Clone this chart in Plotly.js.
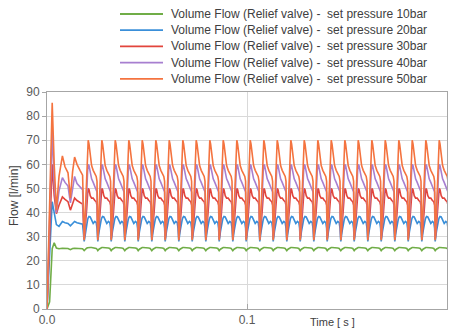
<!DOCTYPE html>
<html>
<head>
<meta charset="utf-8">
<script src="https://cdn.plot.ly/plotly-3.0.1.min.js"></script>
<style>html,body{margin:0;padding:0;background:#fff;}#chart{width:455px;height:330px;}</style>
</head>
<body>
<div id="chart"></div>
<script>
// ---- data ----
const seriesNames = [
  "Volume Flow (Relief valve) -\u00a0 set pressure 10bar",
  "Volume Flow (Relief valve) -\u00a0 set pressure 20bar",
  "Volume Flow (Relief valve) -\u00a0 set pressure 30bar",
  "Volume Flow (Relief valve) -\u00a0 set pressure 40bar",
  "Volume Flow (Relief valve) -\u00a0 set pressure 50bar"
];
const seriesColors = ["#70ad47", "#3a8fd9", "#e2453c", "#a77fd0", "#f4733f"];

// start-up transient (time in s)
const tStart = [0, 0.0013, 0.0026, 0.0036, 0.0047, 0.0060, 0.0077, 0.0090, 0.0105, 0.0117, 0.0128, 0.0138, 0.0150, 0.0165, 0.0178];
const start10 = [0, 3, 25, 27.5, 25.3, 25.0, 25.2, 25.2, 25.1, 24.6, 25.1, 25.2, 25.2, 25.1, 25.0];
const start20 = [0, 22, 44.5, 40, 35, 34.3, 36.3, 35.8, 35.5, 34.5, 35.5, 36.3, 35.8, 35.5, 35.2];
const start30 = [0, 32, 60, 47, 39.5, 43, 46.5, 45.5, 44.5, 41, 44, 46, 45, 44, 43.5];
const start40 = [0, 38, 74, 52, 40, 49, 54.5, 52.5, 51, 44, 51, 55, 52, 50.5, 49.5];
const start50 = [0, 45, 85.5, 60, 41, 55, 63.5, 59, 56.5, 46, 57, 63, 60, 57.5, 55.5];

// pulsation: times of each pulse peak (s)
const pulsePeaks = [0.0206, 0.0274, 0.0341, 0.0409, 0.0476, 0.0544, 0.0611, 0.0679, 0.0746, 0.0814,
  0.0881, 0.0949, 0.1016, 0.1084, 0.1151, 0.1219, 0.1286, 0.1354, 0.1421, 0.1489,
  0.1556, 0.1624, 0.1691, 0.1759, 0.1826, 0.1894, 0.1961];
// one pulse, sampled at these offsets from its peak (s)
const pulseOffsets = [-0.0020, -0.0014, -0.0008, -0.0003, 0, 0.0004, 0.0010, 0.0017, 0.0025, 0.0033, 0.0040, 0.0044];
const pulse10 = [24.2, 24.8, 25.2, 25.4, 25.5, 25.5, 25.5, 25.5, 25.4, 25.3, 25.1, 24.8];
const pulse20 = [28, 32, 35.5, 37, 37.8, 38.4, 38.2, 36.5, 35.5, 36.3, 35.8, 33.5];
const pulse30 = [29, 34, 41, 47.5, 50, 49.5, 47, 46, 46, 45, 44.5, 43];
const pulse40 = [29, 37, 47, 57, 60, 59.5, 56, 54, 52.5, 51, 50, 48.5];
const pulse50 = [28.5, 40, 55, 67, 70, 68.5, 63, 59.5, 57.5, 56, 55, 53];

const yTicks = [0, 10, 20, 30, 40, 50, 60, 70, 80, 90];
const xTicks = [0, 0.1, 0.2];
const xTickText = ["0.0", "0.1", "0.2"];

// ---- build traces ----
const starts = [start10, start20, start30, start40, start50];
const pulses = [pulse10, pulse20, pulse30, pulse40, pulse50];

const traces = seriesNames.map((name, i) => {
  const x = tStart.slice();
  const y = starts[i].slice();
  pulsePeaks.forEach(p => {
    pulseOffsets.forEach((o, j) => { x.push(+(p + o).toFixed(5)); y.push(pulses[i][j]); });
  });
  return {
    type: "scatter", mode: "lines", name: name, x: x, y: y,
    line: {color: seriesColors[i], width: 1.6},
    showlegend: false, hoverinfo: "skip"
  };
});

// ---- manual legend (rows 16 px apart above plot) ----
const plotTop = 92, plotBottom = 309, plotLeft = 47, plotRight = 447;
const pyPaper = px => (plotBottom - px) / (plotBottom - plotTop);
const pxPaper = px => (px - plotLeft) / (plotRight - plotLeft);
const rowY = [14, 30.2, 46.4, 62.6, 78.8];
const fam = "Liberation Sans, Arial, sans-serif";

const shapes = seriesNames.map((n, i) => ({
  type: "line", xref: "paper", yref: "paper",
  x0: pxPaper(120), x1: pxPaper(163), y0: pyPaper(rowY[i]), y1: pyPaper(rowY[i]),
  line: {color: seriesColors[i], width: 1.8}
}));
const annotations = seriesNames.map((n, i) => ({
  xref: "paper", yref: "paper", x: pxPaper(169), y: pyPaper(rowY[i]),
  xanchor: "left", yanchor: "middle", text: n, showarrow: false,
  font: {family: fam, size: 12, color: "#404040"}
}));
annotations.push({
  xref: "paper", yref: "paper", x: pxPaper(332), y: pyPaper(322),
  xanchor: "center", yanchor: "middle", text: "Time [ s ]", showarrow: false,
  font: {family: fam, size: 11, color: "#404040"}
});
annotations.push({
  xref: "paper", yref: "paper", x: pxPaper(14), y: pyPaper(196),
  xanchor: "center", yanchor: "middle", text: "Flow [l/min]", showarrow: false, textangle: -90,
  font: {family: fam, size: 12, color: "#404040"}
});

const layout = {
  width: 455, height: 330,
  margin: {l: plotLeft, r: 455 - plotRight, t: plotTop, b: 330 - plotBottom, pad: 0},
  paper_bgcolor: "#ffffff", plot_bgcolor: "#ffffff",
  font: {family: fam, size: 12, color: "#595959"},
  xaxis: {
    range: [0, 0.2], tickvals: xTicks, ticktext: xTickText,
    showgrid: true, gridcolor: "#d9d9d9", gridwidth: 1,
    showline: true, linecolor: "#a6a6a6", linewidth: 1, mirror: true,
    ticks: "inside", ticklen: 5, tickcolor: "#a6a6a6", zeroline: false,
    tickfont: {size: 12, color: "#595959"}
  },
  yaxis: {
    range: [0, 90], tickvals: yTicks,
    showgrid: true, gridcolor: "#d9d9d9", gridwidth: 1,
    showline: true, linecolor: "#a6a6a6", linewidth: 1, mirror: true,
    ticks: "outside", ticklen: 4, tickcolor: "#a6a6a6", zeroline: false,
    tickfont: {size: 12, color: "#595959"}
  },
  shapes: shapes,
  annotations: annotations,
  showlegend: false
};

Plotly.newPlot("chart", traces, layout, {staticPlot: true, displayModeBar: false});
</script>
</body>
</html>
